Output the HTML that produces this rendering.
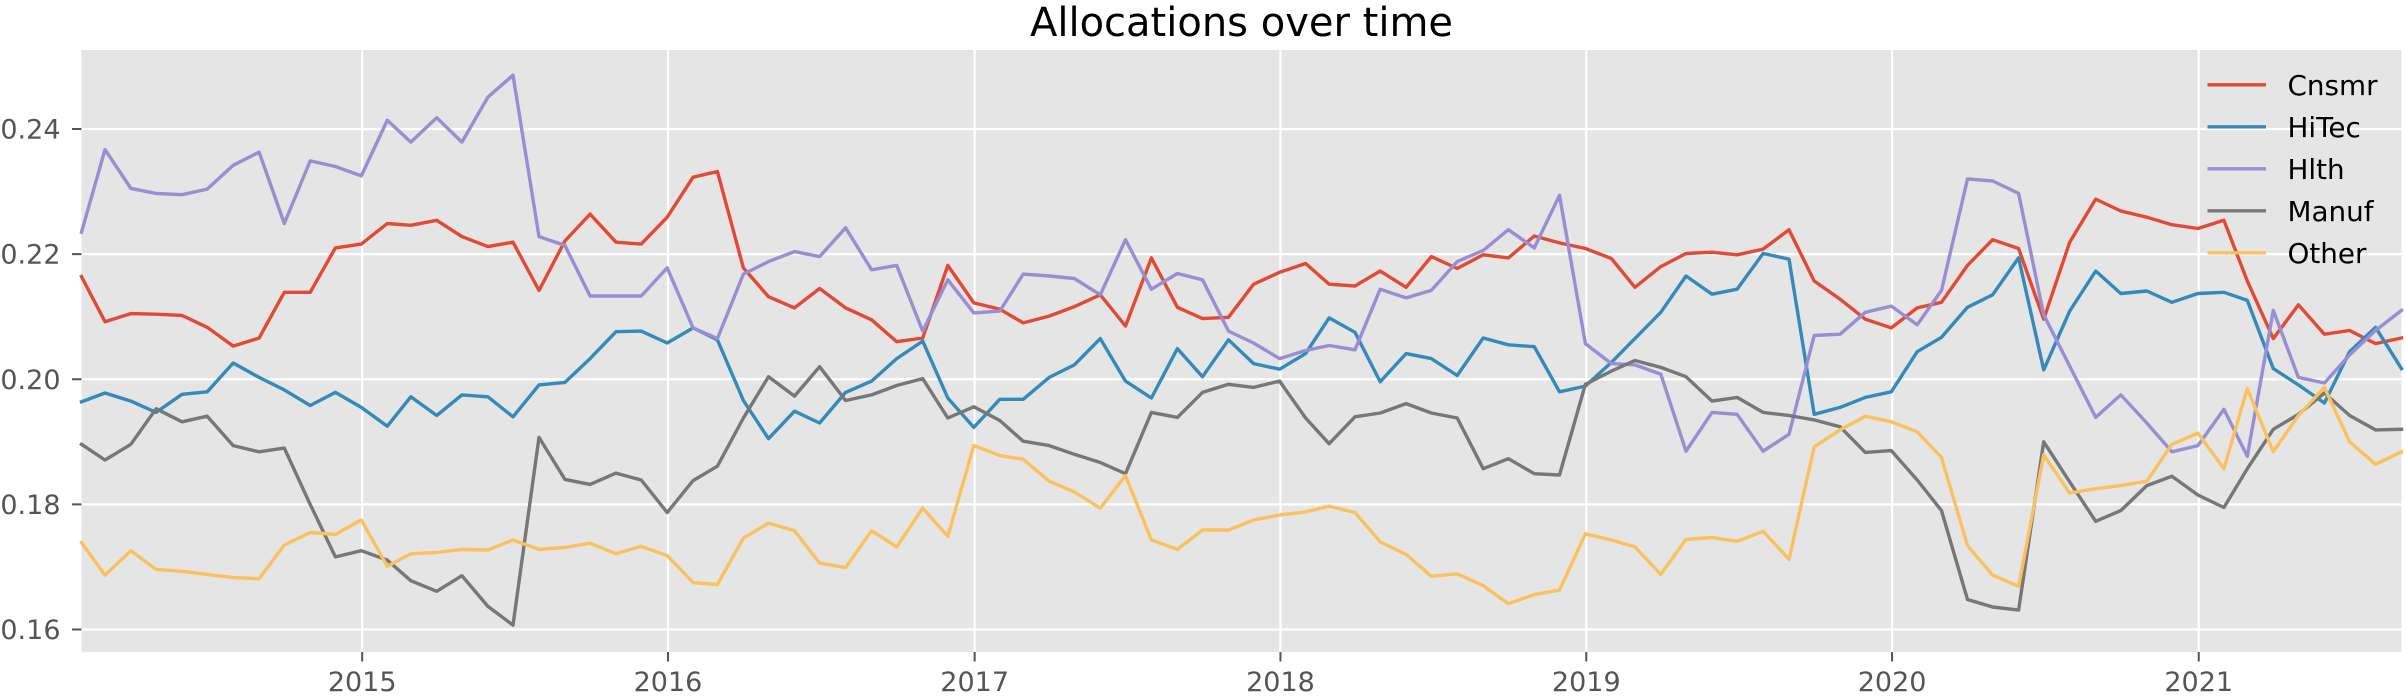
<!DOCTYPE html>
<html><head><meta charset="utf-8">
<style>
html,body{margin:0;padding:0;background:#fff;}
svg{display:block;font-family:"DejaVu Sans","Liberation Sans",sans-serif;}
</style></head>
<body>
<svg id="chart" width="2406" height="699" viewBox="0 0 2406 699" xmlns="http://www.w3.org/2000/svg"></svg>
<script>
const seriesNames = ["Cnsmr","HiTec","Hlth","Manuf","Other"];
const cnsmr = [.2164,.2092,.2105,.2104,.2102,.2083,.2053,.2066,.2139,.2139,.2210,.2216,.2249,.2246,.2254,.2228,.2212,.2219,.2142,.2221,.2264,.2219,.2216,.2259,.2323,
.2332,.2178,.2132,.2114,.2145,.2114,.2095,.2060,.2066,.2182,.2122,.2112,.2090,.2101,.2116,.2135,.2085,.2194,.2115,.2097,
.2099,.2152,.2171,.2185,.2152,.2149,.2173,.2147,.2196,.2177,.2199,.2194,.2229,.2218,.2209,.2193,.2147,.2180,.2201,.2203,
.2199,.2208,.2239,.2157,.2128,.2096,.2082,.2114,.2123,.2182,.2223,.2209,.2096,.2219,.2288,.2269,.2259,.2247,.2241,.2254,.2157,.2065,.2119,.2072,.2078,.2057,.2066];
const hitec = [.1964,.1978,.1965,.1947,.1976,.1980,.2026,.2003,.1983,.1958,.1979,.1955,.1925,.1972,.1942,.1975,.1972,.1940,.1991,.1995,.2033,.2076,.2077,.2058,.2082,
.2063,.1966,.1905,.1949,.1930,.1979,.1997,.2033,.2061,.1970,.1923,.1968,.1968,.2003,.2023,.2065,.1997,.1970,.2049,.2004,
.2063,.2025,.2016,.2041,.2098,.2075,.1996,.2041,.2033,.2006,.2066,.2055,.2052,.1980,.1989,.2027,.2065,.2107,.2165,.2136,
.2144,.2201,.2192,.1944,.1955,.1971,.1980,.2044,.2067,.2115,.2135,.2194,.2015,.2109,.2173,.2137,.2141,.2123,.2137,.2139,.2126,.2017,.1991,.1962,.2044,.2083,.2017];
const hlth = [.2235,.2367,.2305,.2297,.2295,.2304,.2342,.2363,.2249,.2349,.2340,.2325,.2414,.2379,.2418,.2379,.2451,.2486,.2228,.2214,.2133,.2133,.2133,.2178,.2082,
.2065,.2168,.2188,.2204,.2196,.2242,.2175,.2182,.2077,.2159,.2106,.2109,.2168,.2165,.2161,.2135,.2223,.2144,.2169,.2159,
.2077,.2058,.2033,.2046,.2054,.2047,.2144,.2130,.2142,.2188,.2206,.2239,.2210,.2294,.2057,.2025,.2023,.2008,.1885,.1947,
.1944,.1885,.1912,.2070,.2072,.2107,.2117,.2087,.2142,.2320,.2317,.2297,.2103,.2021,.1939,.1975,.1930,.1884,.1894,.1952,.1877,.2110,.2003,.1994,.2039,.2078,.2110];
const manuf = [.1896,.1871,.1896,.1953,.1932,.1941,.1894,.1884,.1890,.1800,.1716,.1726,.1711,.1678,.1661,.1686,.1637,.1607,.1907,.1840,.1832,.1850,.1839,.1787,.1838,
.1861,.1938,.2004,.1973,.2020,.1966,.1975,.1990,.2001,.1938,.1956,.1934,.1901,.1894,.1880,.1867,.1849,.1947,.1939,.1979,
.1992,.1987,.1997,.1938,.1897,.1940,.1946,.1961,.1946,.1938,.1857,.1873,.1849,.1847,.1992,.2013,.2030,.2019,.2004,.1965,
.1971,.1947,.1942,.1935,.1924,.1883,.1886,.1839,.1790,.1648,.1636,.1631,.1900,.1836,.1773,.1790,.1830,.1845,.1815,.1795,.1857,.1920,.1944,.1978,.1942,.1919,.1920];
const other = [.1739,.1687,.1726,.1696,.1693,.1688,.1683,.1681,.1735,.1755,.1752,.1775,.1701,.1721,.1723,.1728,.1727,.1743,.1728,.1731,.1738,.1721,.1733,.1718,.1675,
.1672,.1746,.1770,.1758,.1706,.1699,.1758,.1732,.1794,.1749,.1894,.1878,.1872,.1837,.1820,.1794,.1846,.1743,.1728,.1759,
.1759,.1775,.1783,.1788,.1797,.1787,.1740,.1720,.1685,.1689,.1670,.1641,.1656,.1663,.1753,.1743,.1732,.1688,.1744,.1747,
.1741,.1757,.1712,.1892,.1919,.1941,.1932,.1916,.1875,.1734,.1687,.1669,.1879,.1818,.1825,.1830,.1837,.1896,.1914,.1857,.1985,.1884,.1942,.1987,.1900,.1864,.1884];
const startYear = 2014, startMonth = 0; // month-end dates beginning Jan 2014
const yTicks = [0.16,0.18,0.20,0.22,0.24];
const yTickLabels = ["0.16","0.18","0.20","0.22","0.24"];
const xTickYears = [2015,2016,2017,2018,2019,2020,2021];

const colors = ["#E24A33","#348ABD","#988ED5","#777777","#FBC15E"];
const allSeries = [cnsmr,hitec,hlth,manuf,other];
const NS = "http://www.w3.org/2000/svg";
const svg = document.getElementById("chart");
const L = 81.5, R = 2401.5, T = 50, B = 652;
const n = cnsmr.length;
const dates = [];
for (let i = 0; i < n; i++) dates.push(Date.UTC(startYear, startMonth + i + 1, 0));
const d0 = dates[0], d1 = dates[n-1];
function xs(t){ return L + (t - d0) / (d1 - d0) * (R - L); }
const yA = 0.24, yAp = 129, yB = 0.16, yBp = 629.5;
function ys(v){ return yBp + (v - yB) / (yA - yB) * (yAp - yBp); }
function el(tag, attrs, parent){ const e = document.createElementNS(NS, tag); for (const k in attrs) e.setAttribute(k, attrs[k]); (parent||svg).appendChild(e); return e; }

const bg = el("rect",{x:L,y:T,width:R-L,height:B-T,fill:"#E5E5E5"});



const grid = el("g",{stroke:"#ffffff","stroke-width":2.2});


yTicks.forEach((v,k)=>{
  const y = ys(v);
  el("line",{x1:L,x2:R,y1:y,y2:y},grid);
  const tk = el("line",{x1:L-9.5,x2:L,y1:y,y2:y,stroke:"#555555","stroke-width":2});
  
  
  const t = el("text",{x:L-21,y:y+9.5,"text-anchor":"end","font-size":27,fill:"#555555"});
  t.textContent = yTickLabels[k];
  
  
});
xTickYears.forEach(yr=>{
  const x = xs(Date.UTC(yr,0,1));
  el("line",{x1:x,x2:x,y1:T,y2:B},grid);
  const tk = el("line",{x1:x,x2:x,y1:B,y2:B+9.5,stroke:"#555555","stroke-width":2});
  
  
  const t = el("text",{x:x,y:B+39,"text-anchor":"middle","font-size":27,fill:"#555555"});
  t.textContent = String(yr);
  
  
});

allSeries.forEach((vals,s)=>{
  const pts = vals.map((v,i)=>xs(dates[i]).toFixed(1)+","+ys(v).toFixed(1)).join(" ");
  const pl = el("polyline",{points:pts,fill:"none",stroke:colors[s],"stroke-width":3.4,"stroke-linejoin":"round","stroke-linecap":"square"});
  
  
});

const title = el("text",{x:(L+R)/2,y:36,"text-anchor":"middle","font-size":40,fill:"#000"});
title.textContent = "Allocations over time";



const legend = el("g",{});


seriesNames.forEach((nm,s)=>{
  const y = 84.8 + s*42;
  const g = el("g",{},legend);
  
  
  el("line",{x1:2207.5,x2:2266,y1:y,y2:y,stroke:colors[s],"stroke-width":3.4},g);
  const t = el("text",{x:2287.5,y:y+10,"font-size":27.8,fill:"#000"},g);
  t.textContent = nm;
});
</script>
</body></html>
